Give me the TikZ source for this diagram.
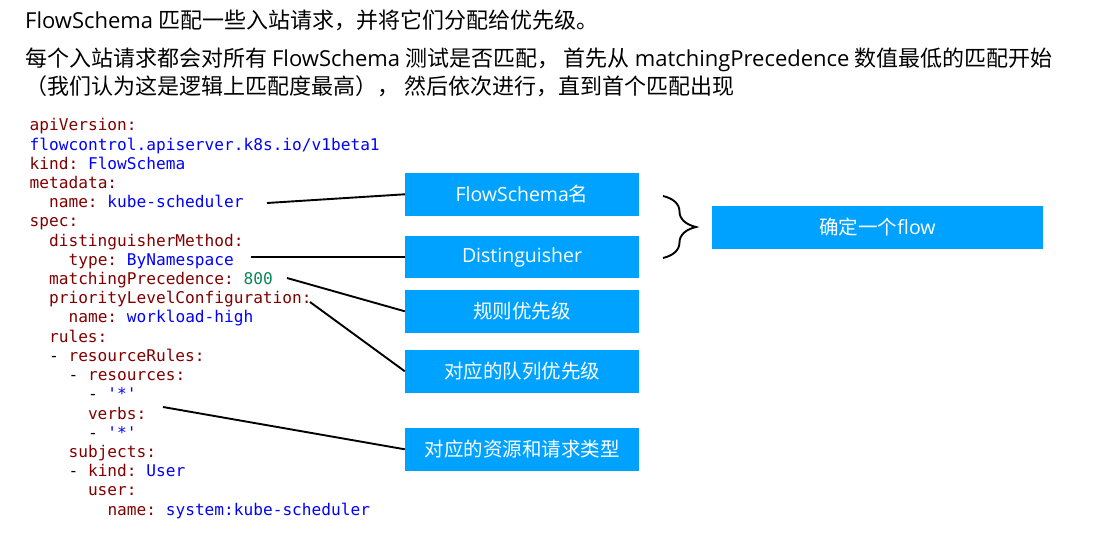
\documentclass[tikz,border=0pt]{standalone}
\usepackage{fontspec}
\setmainfont{Noto Sans CJK SC}
\newfontfamily\latfont{Open Sans}
\setmonofont{DejaVu Sans Mono}
\usepackage{tikz}
\usetikzlibrary{decorations.pathreplacing}
\definecolor{ykey}{HTML}{800000}
\definecolor{yval}{HTML}{0000FF}
\definecolor{ynum}{HTML}{098658}
\definecolor{tagblue}{HTML}{00A2FF}
\newcommand{\yk}[1]{\textcolor{ykey}{#1}}
\newcommand{\yv}[1]{\textcolor{yval}{#1}}
\newcommand{\yn}[1]{\textcolor{ynum}{#1}}

\begin{document}
\begin{tikzpicture}[x=1pt,y=-1pt]
\tikzstyle{every node}+=[inner sep=0pt]
\tikzstyle{head}=[anchor=west,font=\fontsize{22}{26}\selectfont]
\tikzstyle{code}=[anchor=base west,font=\ttfamily\fontsize{16.15}{19}\selectfont]
\tikzstyle{tag}=[fill=tagblue,text=white,minimum width=234pt,minimum height=42.7pt,font=\fontsize{19.5}{22}\selectfont]
\tikzstyle{link}=[line width=1.9pt]
\useasboundingbox (0,0) rectangle (1106,537);
% heading
\node [head] (head1) at (25,20) {{\latfont FlowSchema} 匹配一些入站请求，并将它们分配给优先级。};
\node [head] (head2) at (25,60) {每个入站请求都会对所有 {\latfont FlowSchema} 测试是否匹配， 首先从 {\latfont matchingPrecedence} 数值最低的匹配开始};
\node [head] (head3) at (25,86) {（我们认为这是逻辑上匹配度最高）， 然后依次进行，直到首个匹配出现};
% yaml
\node [code] (apiver) at (29.5,131) {\yk{apiVersion:}};
\node [code] (apigrp) at (29.5,150.2) {\yv{flowcontrol.apiserver.k8s.io/v1beta1}};
\node [code] (kind) at (29.5,169.4) {\yk{kind:} \yv{FlowSchema}};
\node [code] (meta) at (29.5,188.6) {\yk{metadata:}};
\node [code] (fsname) at (48.9,207.8) {\yk{name:} \yv{kube-scheduler}};
\node [code] (spec) at (29.5,227) {\yk{spec:}};
\node [code] (dmethod) at (48.9,246.2) {\yk{distinguisherMethod:}};
\node [code] (dtype) at (68.4,265.4) {\yk{type:} \yv{ByNamespace}};
\node [code] (prec) at (48.9,284.6) {\yk{matchingPrecedence:} \yn{800}};
\node [code] (plconf) at (48.9,303.8) {\yk{priorityLevelConfiguration:}};
\node [code] (plname) at (68.4,323) {\yk{name:} \yv{workload-high}};
\node [code] (rules) at (48.9,342.2) {\yk{rules:}};
\node [code] (rrules) at (48.9,361.4) {- \yk{resourceRules:}};
\node [code] (res) at (68.4,380.6) {- \yk{resources:}};
\node [code] (resall) at (87.8,399.8) {- \yv{'*'}};
\node [code] (verbs) at (87.8,419) {\yk{verbs:}};
\node [code] (verball) at (87.8,438.2) {- \yv{'*'}};
\node [code] (subj) at (68.4,457.4) {\yk{subjects:}};
\node [code] (skind) at (68.4,476.6) {- \yk{kind:} \yv{User}};
\node [code] (suser) at (87.8,495.8) {\yk{user:}};
\node [code] (sname) at (107.3,515) {\yk{name:} \yv{system:kube-scheduler}};
% tags
\node [tag] (tname) at (522,194.3) {{\latfont FlowSchema}名};
\node [tag] (tdist) at (522,257) {{\latfont Distinguisher}};
\node [tag] (tprec) at (522,311.3) {规则优先级};
\node [tag] (tqueue) at (522,371.3) {对应的队列优先级};
\node [tag] (trule) at (522,449.3) {对应的资源和请求类型};
\node [tag,minimum width=331pt] (tflow) at (877.5,227.5) {确定一个{\latfont flow}};
% connectors
\coordinate (pname) at (267,203);
\coordinate (ptype) at (251,257);
\coordinate (pprec) at (287,278);
\coordinate (pconf) at (310,302);
\coordinate (pverb) at (163,407);
\draw [link] (pname) -- (tname.west);
\draw [link] (ptype) -- (tdist.west);
\draw [link] (pprec) -- (tprec.west);
\draw [link] (pconf) -- (tqueue.west);
\draw [link] (pverb) -- (trule.west);
\coordinate (btop) at (663,196);
\coordinate (bbot) at (663,258);
\draw [link,decorate,decoration={brace,amplitude=33pt}] (btop) -- (bbot);
\end{tikzpicture}
\end{document}
